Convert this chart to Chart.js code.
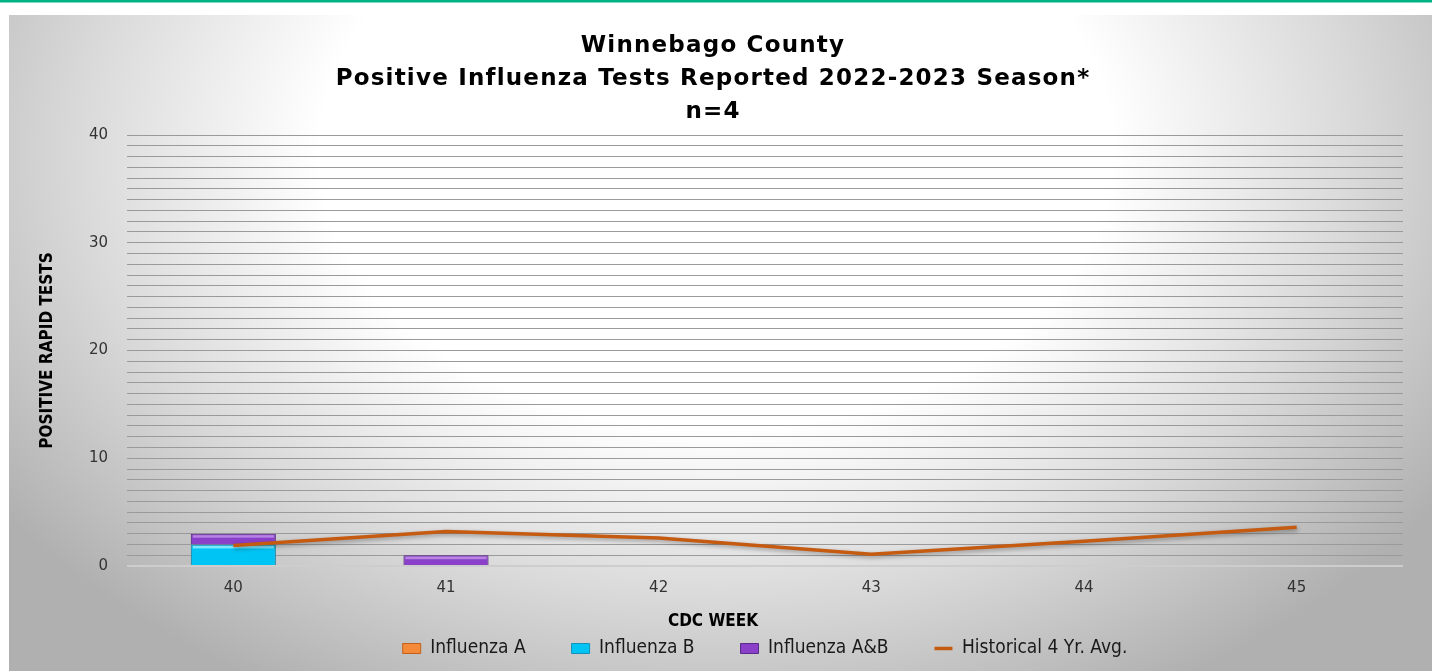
<!DOCTYPE html>
<html><head><meta charset="utf-8">
<script src="https://cdn.jsdelivr.net/npm/chart.js@4"></script>
<style>html,body{margin:0;padding:0;background:#fff;overflow:hidden}#wrap{width:1432px;height:671px;position:relative}</style>
</head><body><div id="wrap"><canvas id="c"></canvas></div>
<script>
// ---- data ----
const weeks = ['40', '41', '42', '43', '44', '45'];
const influenzaA = [0, 0, 0, 0, 0, 0];
const influenzaB = [2, 0, 0, 0, 0, 0];
const influenzaAB = [1, 1, 0, 0, 0, 0];
const historicalAvg = [1.9, 3.2, 2.6, 1.1, 2.3, 3.6];
const seriesNames = ['Influenza A', 'Influenza B', 'Influenza A&B', 'Historical 4 Yr. Avg.'];
const titleLines = ['Winnebago County', 'Positive Influenza Tests Reported 2022-2023 Season*', 'n=4'];
const yAxisTitle = 'POSITIVE RAPID TESTS';
const xAxisTitle = 'CDC WEEK';
const yMin = 0, yMax = 40, yLabelEvery = 10;

const NARROW = "'Liberation Sans Narrow', 'DejaVu Sans Condensed', 'Arial Narrow', sans-serif";
const WIDE = "'DejaVu Sans', Verdana, sans-serif";

const bgPlugin = {
  id: 'bg',
  beforeDraw(chart) {
    const ctx = chart.ctx, W = chart.width, H = chart.height;
    ctx.save();
    ctx.fillStyle = '#ffffff';
    ctx.fillRect(0, 0, W, H);
    ctx.fillStyle = '#00b383';
    ctx.fillRect(0, 0, W, 2.5);
    ctx.beginPath(); ctx.rect(9, 15, W - 9, H - 15); ctx.clip();
    ctx.translate(716, 150); ctx.scale(880, 620);
    const g = ctx.createRadialGradient(0, 0, 0, 0, 0, 1);
    g.addColorStop(0, '#ffffff'); g.addColorStop(0.45, '#ffffff');
    g.addColorStop(0.72, '#dadada'); g.addColorStop(1, '#b0b0b0');
    ctx.fillStyle = g;
    ctx.fillRect(-2, -2, 4, 4);
    ctx.restore();
  }
};

const shadowPlugin = {
  id: 'markShadow',
  beforeDatasetDraw(chart, args) {
    const ds = chart.data.datasets[args.index];
    const ctx = chart.ctx; ctx.save();
    if (ds.type === 'line') {
      ctx.shadowColor = 'rgba(0,0,0,0.35)'; ctx.shadowBlur = 4; ctx.shadowOffsetX = 1; ctx.shadowOffsetY = 2;
    } else {
      ctx.shadowColor = 'rgba(0,0,0,0.25)'; ctx.shadowBlur = 3; ctx.shadowOffsetY = 1;
    }
  },
  afterDatasetDraw(chart, args) {
    chart.ctx.restore();
    const ds = chart.data.datasets[args.index];
    if (ds.type === 'line' || !ds.highlight) return;
    const ctx = chart.ctx;
    ctx.save();
    args.meta.data.forEach(el => {
      const p = el.getProps(['x', 'y', 'base', 'width'], true);
      const h = Math.abs(p.base - p.y);
      if (h < 3) return;
      ctx.fillStyle = ds.highlight;
      ctx.fillRect(p.x - p.width / 2 + 2, p.y + 1.5, p.width - 4, 2.5);
    });
    ctx.restore();
  }
};

const titleSpacing = {
  id: 'titleSpacing',
  afterInit(chart) {
    const tb = chart.titleBlock;
    if (tb && !tb._spaced) {
      const d = tb.draw;
      tb.draw = function (...a) { const ctx = this.ctx; ctx.save(); ctx.letterSpacing = '1.2px'; d.apply(this, a); ctx.restore(); };
      tb._spaced = true;
    }
  }
};

new Chart(document.getElementById('c'), {
  type: 'bar',
  data: {
    labels: weeks,
    datasets: [
      { type: 'line', label: seriesNames[3], data: historicalAvg, stack: 'avg', order: 0,
        borderColor: '#c55a11', backgroundColor: '#c55a11', borderWidth: 3.5, pointRadius: 0,
        pointStyle: 'line', tension: 0, fill: false },
      { label: seriesNames[0], data: influenzaA, stack: 'flu', order: 1,
        backgroundColor: '#f58a3a', borderColor: '#c0601a', borderWidth: 1, pointStyle: 'rect', highlight: '#ffc090' },
      { label: seriesNames[1], data: influenzaB, stack: 'flu', order: 1,
        backgroundColor: '#00c4f4', borderColor: '#1690b8', borderWidth: 1, pointStyle: 'rect', highlight: '#7ae6ff' },
      { label: seriesNames[2], data: influenzaAB, stack: 'flu', order: 1,
        backgroundColor: '#8a40c8', borderColor: '#5a2a8a', borderWidth: 1, pointStyle: 'rect', highlight: '#b784e6' }
    ]
  },
  options: {
    responsive: true,
    maintainAspectRatio: false,
    animation: false,
    datasets: { bar: { barPercentage: 0.8, categoryPercentage: 0.5 } },
    layout: { padding: { left: 23, right: 29, top: 0, bottom: 3 } },
    plugins: {
      tooltip: { enabled: false },
      title: {
        display: true, text: titleLines, color: '#000000',
        font: { family: WIDE, size: 23, weight: 'bold', lineHeight: 1.435 },
        padding: { top: 30, bottom: 6 }
      },
      subtitle: {
        display: true, position: 'bottom', weight: 500, text: xAxisTitle, color: '#000000',
        font: { family: NARROW, size: 17, weight: 'bold', lineHeight: 1.2 },
        padding: { top: 18.8, bottom: -39.2 }
      },
      legend: {
        display: true, position: 'bottom', weight: 1000, fullSize: false,
        labels: {
          usePointStyle: true, pointStyleWidth: 18, boxHeight: 10, padding: 46,
          color: '#1a1a1a', font: { family: NARROW, size: 19 },
          sort: (a, b) => seriesNames.indexOf(a.text) - seriesNames.indexOf(b.text)
        }
      }
    },
    scales: {
      x: {
        stacked: true,
        grid: { display: false, drawTicks: false },
        border: { display: false },
        ticks: { color: '#333333', font: { family: WIDE, size: 15 }, padding: 13 },
        afterFit(scale) { scale.height = 27; }
      },
      y: {
        stacked: true, min: yMin, max: yMax,
        grid: { drawTicks: false,
          color: (c) => c.index === 0 ? '#cdcdcd' : '#9a9a9a',
          lineWidth: (c) => c.index === 0 ? 2 : 1 },
        border: { display: false },
        ticks: { stepSize: 1, autoSkip: false, maxTicksLimit: 100, padding: 19,
          color: '#333333', font: { family: WIDE, size: 15 },
          callback: (v) => (v % yLabelEvery === 0 ? String(v) : '') },
        title: { display: true, text: yAxisTitle, color: '#000000',
          font: { family: NARROW, size: 17, weight: 'bold', lineHeight: 1.2 },
          padding: { top: 14, bottom: 0 } },
        afterFit(scale) { scale.width = 104; }
      }
    }
  },
  plugins: [bgPlugin, shadowPlugin, titleSpacing]
});
</script>
</body></html>
